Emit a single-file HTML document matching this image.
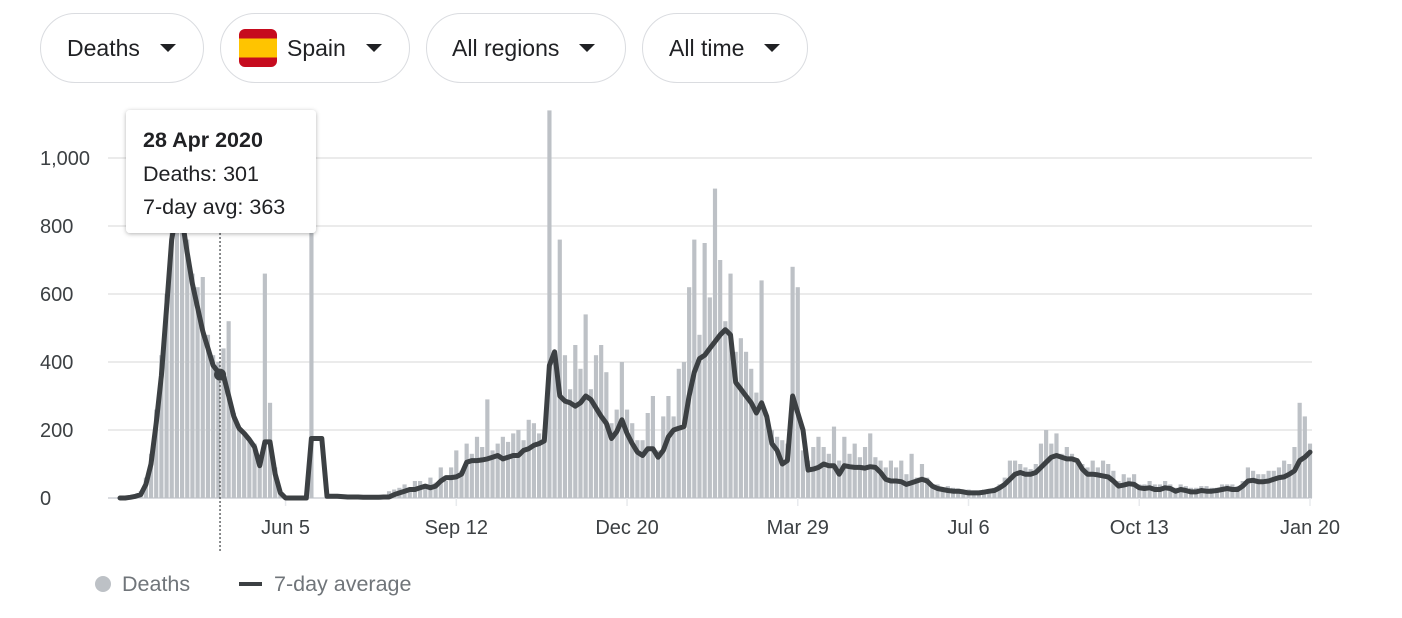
<!DOCTYPE html>
<html><head><meta charset="utf-8">
<style>
body{margin:0;background:#fff;font-family:"Liberation Sans",Arial,sans-serif;}
#wrap{position:relative;width:1402px;height:618px;overflow:hidden;}
.pill{position:absolute;top:13px;height:70px;border:1.5px solid #dadce0;border-radius:36px;box-sizing:border-box;display:flex;align-items:center;font-size:23px;color:#202124;}
.tri{display:inline-block;width:0;height:0;border-left:8px solid transparent;border-right:8px solid transparent;border-top:8px solid #202124;margin-left:20px;}
</style></head><body>
<div id="wrap">
<div class="pill" style="left:40px;width:164px;padding-left:26px">Deaths<span class="tri"></span></div>
<div class="pill" style="left:220px;width:190px;padding-left:18px">
<span style="display:inline-block;width:38px;height:38px;border-radius:6px;overflow:hidden;margin-right:10px;background:linear-gradient(#c60b1e 0 25%,#ffc400 25% 75%,#c60b1e 75%)"></span>Spain<span class="tri"></span></div>
<div class="pill" style="left:426px;width:200px;padding-left:25px">All regions<span class="tri"></span></div>
<div class="pill" style="left:642px;width:166px;padding-left:26px">All time<span class="tri"></span></div>
<svg id="chart" width="1402" height="618" style="position:absolute;left:0;top:0"></svg>
</div>
<script>
const yTicks=[0,200,400,600,800,1000];
const yTickLabels=["0","200","400","600","800","1,000"];
const xTickDays=[96,195,294,393,492,591,690];
const xTickLabels=["Jun 5","Sep 12","Dec 20","Mar 29","Jul 6","Oct 13","Jan 20"];
const stepDays=3;
const dailyDeaths=[0,0,2,8,20,60,130,260,420,600,
820,930,900,760,660,620,650,480,420,400,
440,520,250,200,190,170,160,120,660,280,
90,20,0,0,0,0,0,780,0,0,
10,5,5,4,3,3,3,2,2,2,
3,3,20,25,30,40,25,50,50,35,
60,45,90,50,90,140,80,160,130,180,
150,290,140,160,180,165,190,200,170,230,
220,190,200,1140,420,760,420,320,450,380,
540,320,420,450,370,220,260,400,260,220,
170,170,250,300,140,240,300,240,380,400,
620,760,480,750,590,910,700,520,660,430,
470,430,380,310,640,240,200,180,170,160,
680,620,140,110,150,180,150,130,210,110,
180,130,160,120,150,190,120,110,90,110,
90,110,70,130,60,100,60,40,40,30,
35,30,28,25,25,22,22,25,25,30,
40,60,110,110,100,90,85,100,160,200,
160,190,130,150,130,110,100,90,110,90,
110,100,80,50,70,60,70,40,40,50,
40,40,50,40,30,40,35,30,30,35,
35,30,30,40,40,40,35,50,90,80,
70,70,80,80,90,110,100,150,280,240,
160];
const sevenDayAvg=[0,0,2,5,10,40,100,220,360,560,
760,850,820,720,630,560,490,440,390,370,
360,300,240,205,190,172,150,95,165,165,
70,15,0,0,0,0,0,175,175,175,
5,5,5,4,3,3,3,2,2,2,
2,3,3,10,15,20,25,25,30,35,
30,35,50,60,60,62,70,105,110,110,
112,115,120,125,115,120,125,125,140,145,
155,160,168,390,430,300,285,280,270,280,
300,290,265,240,220,175,195,230,190,160,
135,125,145,145,120,140,180,200,205,210,
300,370,410,420,440,460,480,495,480,340,
320,300,280,250,280,240,160,140,100,110,
300,250,200,82,85,90,100,95,95,70,
95,92,90,90,88,92,90,75,55,50,
50,48,40,45,50,55,50,35,28,25,
22,20,20,18,15,15,15,17,20,22,
30,40,55,70,75,70,70,75,90,105,
120,125,120,115,115,110,85,70,70,68,
65,62,50,35,38,42,40,30,28,30,
25,25,30,28,20,25,22,18,18,22,
20,20,22,25,28,25,25,35,50,52,
48,48,50,55,60,62,70,80,110,120,
135];
const tipDay=58, tipDeaths=301, tipAvg=363;

const NS="http://www.w3.org/2000/svg";
const svg=document.getElementById('chart');
const X0=120,X1=1310,TOTAL=690,Y0=498,PXV=0.34;
const xs=d=>X0+d*(X1-X0)/TOTAL;
const ys=v=>Y0-v*PXV;
function mk(t,a,p){const e=document.createElementNS(NS,t);for(const k in a)e.setAttribute(k,a[k]);(p||svg).appendChild(e);return e;}

yTicks.forEach((v,i)=>{
 const g=mk('line',{x1:108,x2:1312,y1:ys(v),y2:ys(v),stroke:v===0?'#dadce0':'#ebebeb','stroke-width':2});
 
 
 const t=mk('text',{x:40,y:ys(v)+7,'text-anchor':'start','font-size':20,fill:'#3c4043'});
 t.textContent=yTickLabels[i];
 
 
});
xTickDays.forEach((d,i)=>{
 const tk=mk('line',{x1:xs(d),x2:xs(d),y1:Y0,y2:Y0+8,stroke:'#e8eaed','stroke-width':1.5});
 
 
 const t=mk('text',{x:xs(d),y:534,'text-anchor':'middle','font-size':20,fill:'#3c4043'});
 t.textContent=xTickLabels[i];
 
 
});
const bw=(X1-X0)/TOTAL*stepDays-1;
dailyDeaths.forEach((v,i)=>{
 const b=mk('rect',{x:xs(i*stepDays)-bw/2,y:ys(v),width:bw,height:Math.max(0,Y0-ys(v)),fill:'#bdc1c6'});
 
 
});
const pts=sevenDayAvg.map((v,i)=>xs(i*stepDays).toFixed(1)+','+ys(v).toFixed(1)).join(' ');
const line=mk('polyline',{points:pts,fill:'none',stroke:'#3c4043','stroke-width':5,'stroke-linejoin':'round','stroke-linecap':'round'});



const vl=mk('line',{x1:xs(tipDay),x2:xs(tipDay),y1:233,y2:553,stroke:'#3c4043','stroke-width':1.2,'stroke-dasharray':'2,2'});


const dot=mk('circle',{cx:xs(tipDay),cy:ys(tipAvg),r:6,fill:'#3c4043'});



const defs=mk('defs',{});
defs.innerHTML='<filter id="sh" x="-10%" y="-10%" width="120%" height="130%"><feDropShadow dx="0" dy="1" stdDeviation="2" flood-opacity="0.3"/></filter>';
const tg=mk('g',{});


mk('rect',{x:126,y:110,width:190,height:123,rx:4,fill:'#fff',filter:'url(#sh)'},tg);
const t1=mk('text',{x:143,y:147,'font-size':21.5,'font-weight':'bold',fill:'#202124'},tg);t1.textContent='28 Apr 2020';


const t2=mk('text',{x:143,y:181,'font-size':21.5,fill:'#202124'},tg);t2.textContent='Deaths: '+tipDeaths;


const t3=mk('text',{x:143,y:214,'font-size':21.5,fill:'#202124'},tg);t3.textContent='7-day avg: '+tipAvg;



const lg=mk('g',{});


const c=mk('circle',{cx:103,cy:584,r:8,fill:'#bdc1c6'},lg);


const l1=mk('text',{x:122,y:591,'font-size':21.5,fill:'#70757a'},lg);l1.textContent='Deaths';


const ll=mk('line',{x1:239,x2:262,y1:584,y2:584,stroke:'#3c4043','stroke-width':4},lg);


const l2=mk('text',{x:274,y:591,'font-size':21.5,fill:'#70757a'},lg);l2.textContent='7-day average';


</script>
</body></html>
